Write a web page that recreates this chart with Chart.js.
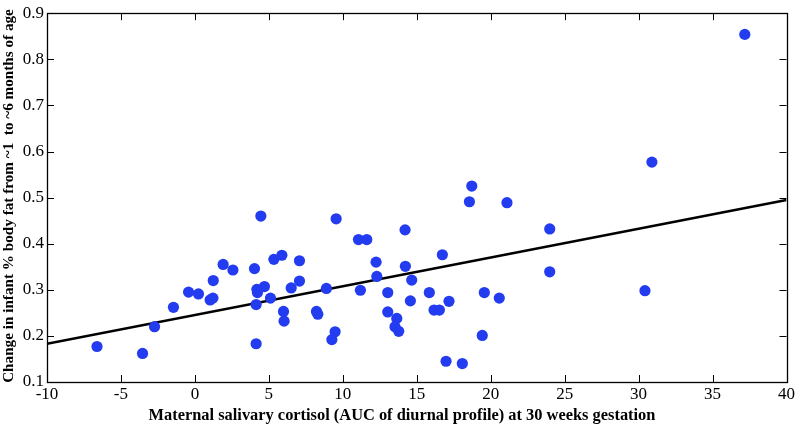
<!DOCTYPE html>
<html>
<head>
<meta charset="utf-8">
<script src="https://cdn.jsdelivr.net/npm/chart.js@4.4.1/dist/chart.umd.min.js"></script>
<style>
  html, body { margin: 0; padding: 0; background: #fff; }
  #wrap { width: 797px; height: 424px; position: relative; }
</style>
</head>
<body>
<div id="wrap"><canvas id="c" width="797" height="424"></canvas></div>
<script>
// Data
const cortisolX = [
  -6.62, -3.54, -2.73, -1.45, -0.43, 0.24, 1.03, 1.22, 1.24, 1.91, 2.57,
  4.03, 4.46, 4.19, 4.23, 4.70, 4.14, 4.14, 5.11, 5.34, 5.88, 5.99, 6.03,
  6.51, 7.07, 7.07, 8.22, 8.31, 8.89, 9.26, 9.48, 9.55, 11.06, 11.62, 11.19,
  12.25, 12.30, 13.04, 13.04, 13.65, 13.53, 13.78, 14.21, 14.23, 14.66, 14.57,
  15.85, 16.73, 16.17, 16.53, 17.18, 16.98, 18.08, 18.72, 18.56, 19.43, 19.57,
  20.58, 21.10, 23.99, 23.99, 37.18, 30.90, 30.43
];
const bodyFatChange = [
  0.177, 0.162, 0.220, 0.262, 0.295, 0.291, 0.278, 0.282, 0.320, 0.355, 0.343,
  0.346, 0.460, 0.301, 0.294, 0.307, 0.268, 0.183, 0.282, 0.366, 0.375, 0.253, 0.232,
  0.304, 0.363, 0.319, 0.253, 0.247, 0.303, 0.192, 0.209, 0.454, 0.409, 0.409, 0.299,
  0.360, 0.329, 0.294, 0.252, 0.238, 0.220, 0.210, 0.430, 0.351, 0.321, 0.276,
  0.294, 0.376, 0.256, 0.256, 0.275, 0.145, 0.140, 0.525, 0.491, 0.201, 0.294,
  0.282, 0.489, 0.432, 0.339, 0.854, 0.577, 0.298
];
const fitX = [-10, 40];
const fitY = [0.183, 0.495];
const xTicks = [-10, -5, 0, 5, 10, 15, 20, 25, 30, 35, 40];
const yTicks = [0.1, 0.2, 0.3, 0.4, 0.5, 0.6, 0.7, 0.8, 0.9];
const xTitle = 'Maternal salivary cortisol (AUC of diurnal profile) at 30 weeks gestation';
const yTitle = 'Change in infant % body fat from ~1  to ~6 months of age';

const points = cortisolX.map((x, i) => ({ x: x, y: bodyFatChange[i] }));
const fitLine = fitX.map((x, i) => ({ x: x, y: fitY[i] }));

const SERIF = '"Liberation Serif", "Times New Roman", serif';

const frame = {
  id: 'frame',
  afterDatasetsDraw(chart) {
    const ctx = chart.ctx;
    const a = chart.chartArea;
    const xs = chart.scales.x, ys = chart.scales.y;
    const L = 7;
    ctx.save();
    ctx.strokeStyle = '#000';
    ctx.lineWidth = 1;
    ctx.beginPath();
    xTicks.forEach(v => {
      const px = Math.round(xs.getPixelForValue(v)) + 0.5;
      ctx.moveTo(px, a.bottom); ctx.lineTo(px, a.bottom - L);
      ctx.moveTo(px, a.top); ctx.lineTo(px, a.top + L);
    });
    yTicks.forEach(v => {
      const py = Math.round(ys.getPixelForValue(v)) + 0.5;
      ctx.moveTo(a.left, py); ctx.lineTo(a.left + L, py);
      ctx.moveTo(a.right, py); ctx.lineTo(a.right - L, py);
    });
    ctx.stroke();
    ctx.lineWidth = 1.3;
    ctx.strokeRect(Math.round(a.left) + 0.5, Math.round(a.top) + 0.5,
      Math.round(a.right - a.left), Math.round(a.bottom - a.top));
    // axis titles
    ctx.fillStyle = '#000';
    ctx.font = 'bold 16.4px ' + SERIF;
    ctx.textAlign = 'center';
    ctx.textBaseline = 'alphabetic';
    ctx.fillText(xTitle, 402, 420);
    ctx.translate(13, 196);
    ctx.rotate(-Math.PI / 2);
    ctx.font = 'bold 15.2px ' + SERIF;
    ctx.fillText(yTitle, 0, 0);
    ctx.restore();
  }
};

new Chart(document.getElementById('c'), {
  type: 'scatter',
  data: {
    datasets: [
      {
        label: 'Subjects',
        data: points,
        backgroundColor: '#233cf0',
        borderColor: '#233cf0',
        borderWidth: 0,
        pointRadius: 5.6,
        pointHoverRadius: 5.6,
        order: 0
      },
      {
        label: 'Fit',
        data: fitLine,
        showLine: true,
        borderColor: '#000',
        borderWidth: 2.6,
        pointRadius: 0,
        fill: false,
        order: 1
      }
    ]
  },
  options: {
    responsive: false,
    animation: false,
    devicePixelRatio: 1,
    layout: { padding: { left: 0, right: 10, top: 7, bottom: 0 } },
    plugins: { legend: { display: false }, tooltip: { enabled: false } },
    scales: {
      x: {
        type: 'linear',
        min: -10, max: 40,
        afterBuildTicks: s => { s.ticks = xTicks.map(v => ({ value: v })); },
        afterFit: s => { s.height = 42; },
        grid: { display: false, drawTicks: false },
        border: { display: false },
        ticks: {
          color: '#000',
          padding: 2,
          maxRotation: 0,
          autoSkip: false,
          font: { family: SERIF, size: 17 },
          callback: v => String(v)
        }
      },
      y: {
        type: 'linear',
        min: 0.1, max: 0.9,
        afterBuildTicks: s => { s.ticks = yTicks.map(v => ({ value: v })); },
        afterFit: s => { s.width = 47; },
        grid: { display: false, drawTicks: false },
        border: { display: false },
        ticks: {
          color: '#000',
          padding: 3,
          autoSkip: false,
          font: { family: SERIF, size: 17 },
          callback: v => Number(v).toFixed(1)
        }
      }
    }
  },
  plugins: [frame]
});
</script>
</body>
</html>
